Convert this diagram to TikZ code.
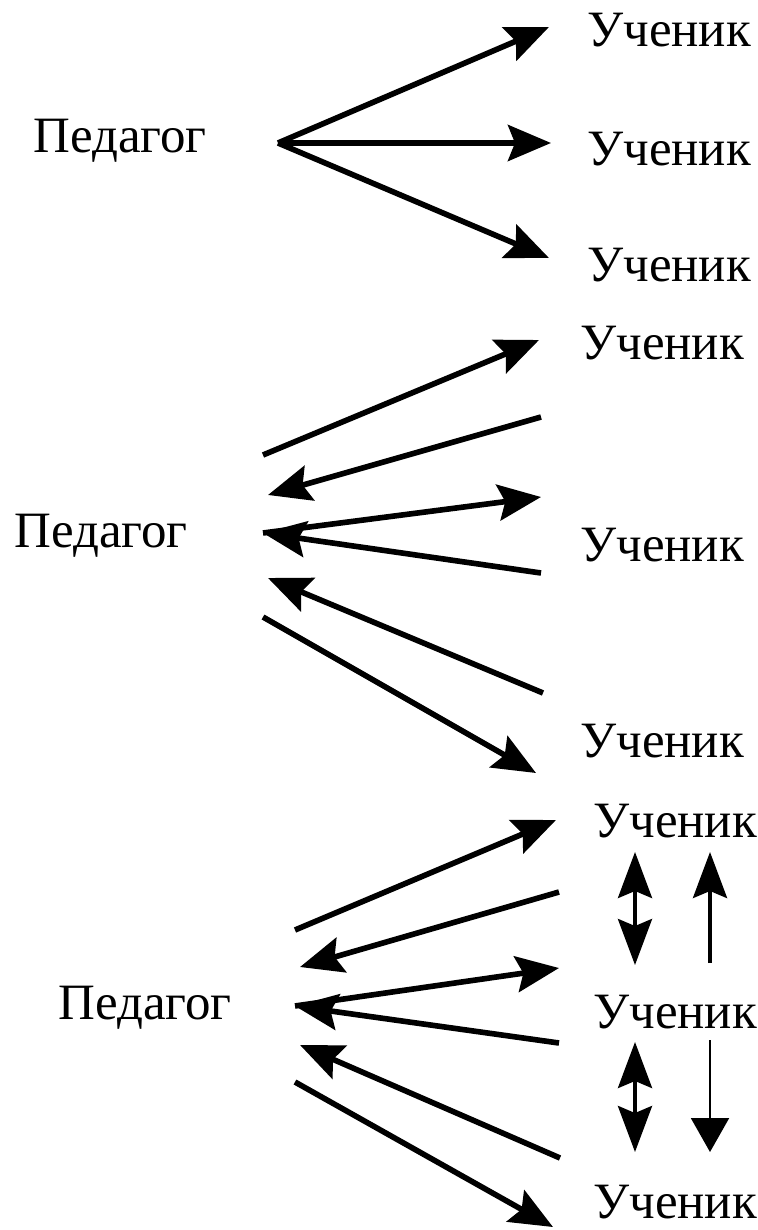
\documentclass[tikz,border=0pt]{standalone}
\usepackage{fontspec}
\setmainfont{Liberation Serif}
\usetikzlibrary{arrows.meta}
\tikzset{
  lbl/.style={font=\fontsize{29}{34}\selectfont, anchor=base west, inner sep=0pt},
  arr/.style={line width=3.2pt, -{Stealth[length=0.86cm, width=0.72cm, inset=0.14cm]}},
  darr/.style={line width=2.2pt, {Stealth[length=0.92cm, width=0.68cm, inset=0.14cm]}-{Stealth[length=0.92cm, width=0.68cm, inset=0.14cm]}},
  uarr/.style={line width=2.2pt, -{Stealth[length=0.92cm, width=0.68cm, inset=0.14cm]}},
  thinarr/.style={line width=1.2pt, -{Triangle[length=0.68cm, width=0.76cm]}}
}
\begin{document}
\begin{tikzpicture}[x=0.02cm, y=-0.02cm]
\useasboundingbox (0,0) rectangle (757,1230);
% one way
\node[lbl] (p1) at (33,153) {Педагог};
\node[lbl] (u11) at (587,47) {Ученик};
\node[lbl] (u12) at (587,165) {Ученик};
\node[lbl] (u13) at (587,281) {Ученик};
\coordinate (o1) at (278,143);
\coordinate (t11) at (549,27);
\coordinate (t12) at (551,143);
\coordinate (t13) at (549,258);
\draw[arr] (o1) -- (t11);
\draw[arr] (o1) -- (t12);
\draw[arr] (o1) -- (t13);
% two ways
\node[lbl] (p2) at (14,547) {Педагог};
\node[lbl] (u21) at (580,359) {Ученик};
\node[lbl] (u22) at (580,561) {Ученик};
\node[lbl] (u23) at (580,757) {Ученик};
\coordinate (a2) at (263,455);
\coordinate (b2) at (268,495);
\coordinate (c2) at (263,533);
\coordinate (e2) at (268,578);
\coordinate (f2) at (263,617);
\coordinate (a2r) at (539,340);
\coordinate (b2r) at (541,417);
\coordinate (c2r) at (541,497);
\coordinate (d2r) at (541,573);
\coordinate (e2r) at (543,693);
\coordinate (f2r) at (536,773);
\draw[arr] (a2) -- (a2r);
\draw[arr] (b2r) -- (b2);
\draw[arr] (c2) -- (c2r);
\draw[arr] (d2r) -- (c2);
\draw[arr] (e2r) -- (e2);
\draw[arr] (f2) -- (f2r);
% two ways + between pupils
\node[lbl] (p3) at (58,1019) {Педагог};
\node[lbl] (u31) at (593,837) {Ученик};
\node[lbl] (u32) at (593,1028) {Ученик};
\node[lbl] (u33) at (593,1218) {Ученик};
\coordinate (a3) at (295,930);
\coordinate (b3) at (300,967);
\coordinate (c3) at (295,1006);
\coordinate (e3) at (300,1045);
\coordinate (f3) at (295,1082);
\coordinate (a3r) at (556,820);
\coordinate (b3r) at (559,892);
\coordinate (c3r) at (559,968);
\coordinate (d3r) at (559,1043);
\coordinate (e3r) at (560,1158);
\coordinate (f3r) at (553,1227);
\draw[arr] (a3) -- (a3r);
\draw[arr] (b3r) -- (b3);
\draw[arr] (c3) -- (c3r);
\draw[arr] (d3r) -- (c3);
\draw[arr] (e3r) -- (e3);
\draw[arr] (f3) -- (f3r);
\coordinate (v1) at (635,852);
\coordinate (v2) at (635,965);
\coordinate (v3) at (635,1042);
\coordinate (v4) at (635,1152);
\coordinate (w1) at (710,852);
\coordinate (w2) at (710,963);
\coordinate (w3) at (710,1040);
\coordinate (w4) at (710,1152);
\draw[darr] (v1) -- (v2);
\draw[uarr] (w2) -- (w1);
\draw[darr] (v3) -- (v4);
\draw[thinarr] (w3) -- (w4);
\end{tikzpicture}
\end{document}
